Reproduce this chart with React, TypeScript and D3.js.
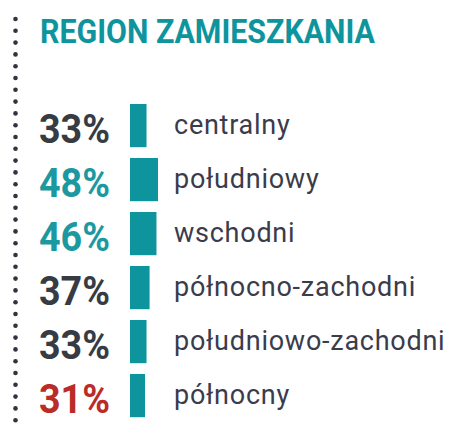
import React, { useRef, useEffect } from 'react';
import * as d3 from 'd3';

const title = 'REGION ZAMIESZKANIA';
const regions = ['centralny', 'południowy', 'wschodni', 'północno-zachodni', 'południowo-zachodni', 'północny'];
const shares = [33, 48, 46, 37, 33, 31];
const tones = ['dark', 'teal', 'teal', 'dark', 'dark', 'red'];

const App = () => {
  const ref = useRef<SVGSVGElement>(null);

  useEffect(() => {
    const svg = d3.select(ref.current);
    svg.selectAll('*').remove();

    const width = 452;
    const height = 425;
    const teal = '#0e949d';
    const toneColor = d3.scaleOrdinal<string>().domain(['dark', 'teal', 'red']).range(['#363b44', '#1b98a0', '#bb2b27']);

    const data = regions.map((r, i) => ({ region: r, value: shares[i], tone: tones[i] }));

    const y = d3.scaleBand().domain(regions).range([98.6, 422.6]).paddingInner(0.2).paddingOuter(0.1);
    const w = d3.scaleLinear().domain([11.4, 48]).range([0, 28]);

    svg.attr('viewBox', `0 0 ${width} ${height}`);

    // dotted rule on the left
    const dots = d3.range(19, height, 11.8);
    svg.append('g').selectAll('circle').data(dots).join('circle')
      .attr('cx', 15.5).attr('cy', d => d).attr('r', 2.3).attr('fill', '#2f3540');

    svg.append('text').attr('x', 40).attr('y', 42.5)
      .attr('font-family', 'Roboto').attr('font-weight', 700).attr('font-size', 33.5)
      .attr('fill', teal).attr('textLength', 335).attr('lengthAdjust', 'spacingAndGlyphs')
      .text(title);

    const row = svg.append('g').selectAll('g').data(data).join('g')
      .attr('transform', d => `translate(0,${y(d.region)})`);

    row.append('rect').attr('x', 130).attr('y', 0)
      .attr('width', d => w(d.value)).attr('height', y.bandwidth()).attr('fill', teal);

    row.append('text').attr('x', 39).attr('y', y.bandwidth() / 2 + 17)
      .attr('font-family', 'Roboto').attr('font-weight', 700).attr('font-size', 40)
      .attr('fill', d => toneColor(d.tone)).attr('textLength', 71).attr('lengthAdjust', 'spacingAndGlyphs')
      .text(d => `${d.value}%`);

    row.append('text').attr('x', 174).attr('y', y.bandwidth() / 2 + 8)
      .attr('font-family', 'Roboto').attr('font-size', 27).attr('letter-spacing', 0.75)
      .attr('fill', '#3a3c4c')
      .text(d => d.region);
  }, []);

  return <svg ref={ref} width={452} height={425} style={{ position: 'absolute', left: 0, top: 0 }} />;
};

export default App;
